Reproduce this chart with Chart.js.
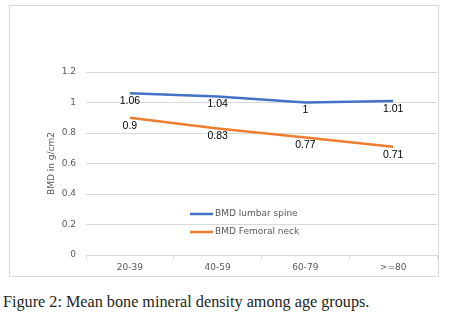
<!DOCTYPE html>
<html>
<head>
<meta charset="utf-8">
<script src="https://cdn.jsdelivr.net/npm/chart.js@4"></script>
<style>
  body { margin: 0; background: #fff; width: 450px; height: 317px; overflow: hidden; position: relative; }
  #frame { position: absolute; left: 9px; top: 5px; width: 428px; height: 270px; border: 1px solid #d9d9d9; }
  #wrap { position: absolute; left: 0; top: 0; width: 450px; height: 278px; }
  #caption { position: absolute; left: 3px; top: 293px; font-family: "Liberation Serif", serif; font-size: 16.2px; color: #231f20; white-space: nowrap; }
</style>
</head>
<body>
<div id="frame"></div>
<div id="wrap"><canvas id="bmdChart"></canvas></div>
<div id="caption">Figure 2: Mean bone mineral density among age groups.</div>
<script>
// age groups on the x axis
const ageGroups = ['20-39', '40-59', '60-79', '>=80'];
// mean BMD values (g/cm2)
const lumbarSpine = [1.06, 1.04, 1, 1.01];
const femoralNeck = [0.9, 0.83, 0.77, 0.71];
const seriesNames = ['BMD lumbar spine', 'BMD Femoral neck'];
const yTicks = [0, 0.2, 0.4, 0.6, 0.8, 1, 1.2];

const axisGray = '#595959';
const gridGray = '#d9d9d9';

// value labels under each point, like Excel's data labels
const valueLabels = {
    id: 'valueLabels',
    afterDatasetsDraw(chart) {
        const ctx = chart.ctx;
        ctx.save();
        ctx.font = '10.5px "Liberation Sans", Arial, sans-serif';
        ctx.fillStyle = '#000';
        ctx.textAlign = 'center';
        ctx.textBaseline = 'middle';
        chart.data.datasets.forEach((ds, i) => {
            const meta = chart.getDatasetMeta(i);
            meta.data.forEach((pt, j) => {
                ctx.fillText(String(ds.data[j]), pt.x, pt.y + 8);
            });
        });
        ctx.restore();
    }
};

// legend sitting inside the plot area
const innerLegend = {
    id: 'innerLegend',
    afterDraw(chart) {
        const ctx = chart.ctx;
        const area = chart.chartArea;
        const x0 = area.left + 104;
        const y0 = area.top + 142;
        ctx.save();
        ctx.font = '9px "DejaVu Sans", sans-serif';
        ctx.textBaseline = 'middle';
        ctx.textAlign = 'left';
        chart.data.datasets.forEach((ds, i) => {
            const y = y0 + i * 18;
            ctx.strokeStyle = ds.borderColor;
            ctx.lineWidth = 2.5;
            ctx.beginPath();
            ctx.moveTo(x0, y);
            ctx.lineTo(x0 + 23, y);
            ctx.stroke();
            ctx.fillStyle = axisGray;
            ctx.fillText(ds.label, x0 + 25, y);
        });
        ctx.restore();
    }
};

new Chart(document.getElementById('bmdChart'), {
    type: 'line',
    data: {
        labels: ageGroups,
        datasets: [
            { label: seriesNames[0], data: lumbarSpine, borderColor: '#4472c4', borderWidth: 2.5, pointRadius: 0, tension: 0 },
            { label: seriesNames[1], data: femoralNeck, borderColor: '#ed7d31', borderWidth: 2.5, pointRadius: 0, tension: 0 }
        ]
    },
    options: {
        responsive: true,
        maintainAspectRatio: false,
        animation: false,
        layout: { padding: { left: 42, right: 13, top: 72, bottom: 0 } },
        plugins: {
            legend: { display: false },
            tooltip: { enabled: false }
        },
        scales: {
            x: {
                offset: true,
                grid: { offset: true, drawOnChartArea: false, tickLength: 4, color: gridGray },
                border: { color: gridGray },
                ticks: { color: axisGray, font: { size: 9, family: '"DejaVu Sans", sans-serif' }, padding: 3 },
                afterFit(scale) { scale.height = 23; }
            },
            y: {
                min: 0,
                max: 1.2,
                afterBuildTicks(scale) { scale.ticks = yTicks.map(v => ({ value: v })); },
                grid: { color: gridGray, drawTicks: false },
                border: { display: false },
                ticks: {
                    color: axisGray,
                    padding: 10,
                    font: { size: 9, family: '"DejaVu Sans", sans-serif' },
                    callback: v => String(Math.round(v * 10) / 10)
                },
                title: { display: true, text: 'BMD in g/cm2', color: axisGray, font: { size: 9, family: '"DejaVu Sans", sans-serif' } },
                afterFit(scale) { scale.width = 44; }
            }
        }
    },
    plugins: [valueLabels, innerLegend]
});
</script>
</body>
</html>
